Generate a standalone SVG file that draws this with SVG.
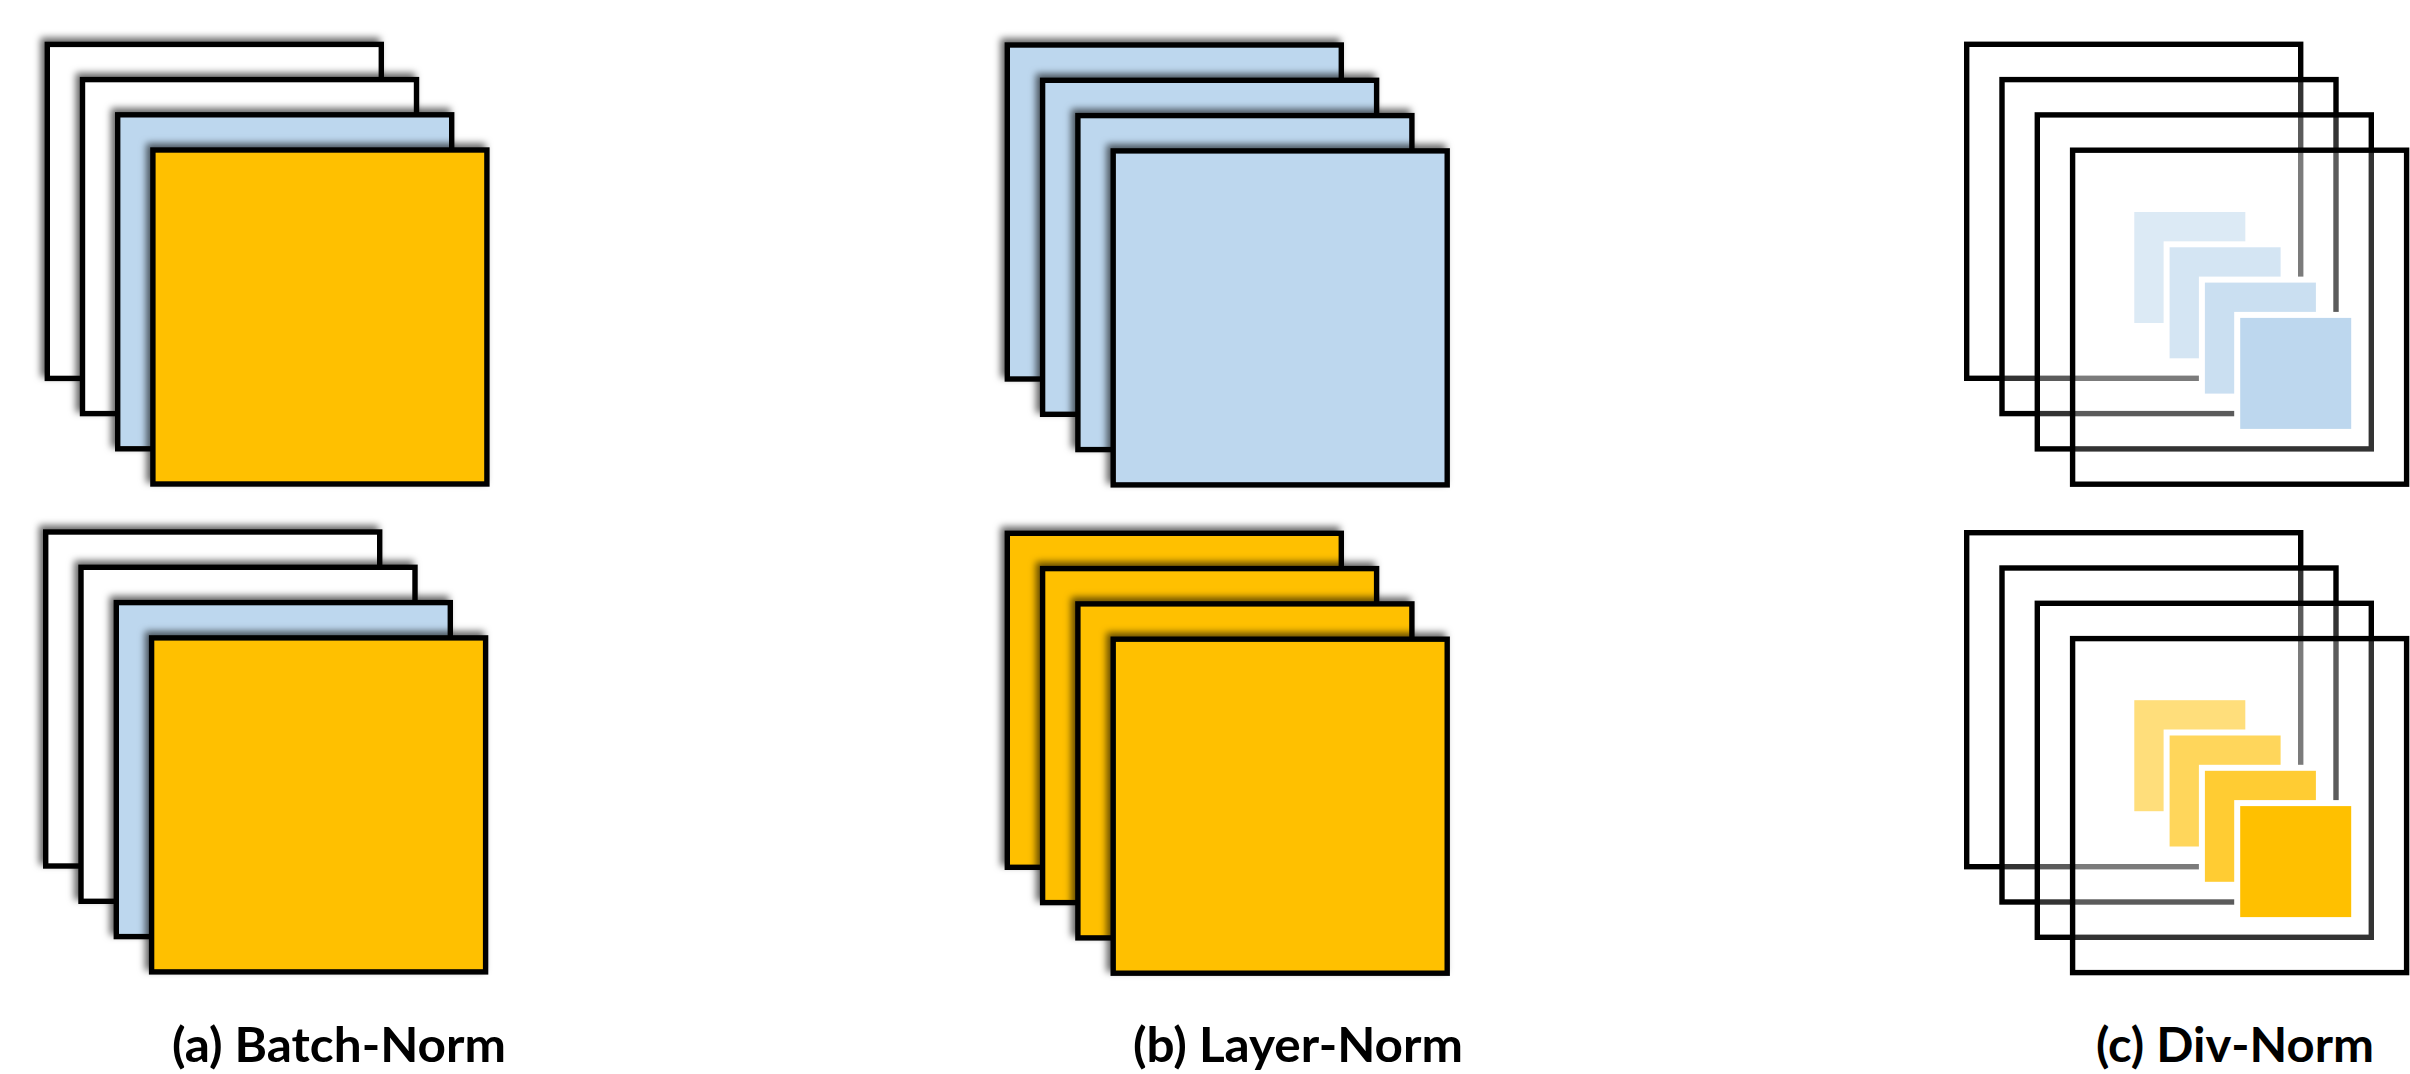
<svg xmlns="http://www.w3.org/2000/svg" width="2410" height="1074" viewBox="0 0 2410 1074">
<defs>
<filter id="sh" x="-10%" y="-10%" width="120%" height="120%">
<feDropShadow dx="-4" dy="-4" stdDeviation="3.5" flood-color="#000" flood-opacity="0.6"/>
</filter>
<style>
.sheet{stroke:#000;stroke-width:5.4;filter:url(#sh)}
.w{fill:#fff}
.b{fill:#BDD7EE}
.y{fill:#FFC000}
.frame{fill:#fff;fill-opacity:0.2;stroke:#000;stroke-width:5.4}
.gap{fill:#fff}
.lbl{font-family:Lato,"Open Sans","Liberation Sans",sans-serif;font-weight:bold;font-size:47px;fill:#000}
</style>
</defs>
<rect width="2410" height="1074" fill="#fff"/>

<g id="batch-norm-top">
<rect class="sheet w" x="47.3" y="44.4" width="334" height="334"/>
<rect class="sheet w" x="82.5" y="79.6" width="334" height="334"/>
<rect class="sheet b" x="117.7" y="114.8" width="334" height="334"/>
<rect class="sheet y" x="152.9" y="150" width="334" height="334"/>
</g>
<g id="batch-norm-bottom">
<rect class="sheet w" x="45.7" y="532" width="334" height="334"/>
<rect class="sheet w" x="81" y="567.3" width="334" height="334"/>
<rect class="sheet b" x="116.3" y="602.6" width="334" height="334"/>
<rect class="sheet y" x="151.6" y="637.9" width="334" height="334"/>
</g>

<g id="layer-norm-top">
<rect class="sheet b" x="1007.3" y="45" width="334" height="334"/>
<rect class="sheet b" x="1042.6" y="80.3" width="334" height="334"/>
<rect class="sheet b" x="1077.9" y="115.6" width="334" height="334"/>
<rect class="sheet b" x="1113.2" y="150.9" width="334" height="334"/>
</g>
<g id="layer-norm-bottom">
<rect class="sheet y" x="1007.3" y="533.3" width="334" height="334"/>
<rect class="sheet y" x="1042.6" y="568.6" width="334" height="334"/>
<rect class="sheet y" x="1077.9" y="603.9" width="334" height="334"/>
<rect class="sheet y" x="1113.2" y="639.2" width="334" height="334"/>
</g>

<g id="div-norm-top">
<rect class="frame" x="1966.7" y="44.3" width="334" height="334"/>
<rect class="gap" x="2128.3" y="206" width="123" height="123"/>
<rect class="b" x="2134.3" y="212" width="111" height="111"/>
<rect class="frame" x="2002" y="79.6" width="334" height="334"/>
<rect class="gap" x="2163.6" y="241.3" width="123" height="123"/>
<rect class="b" x="2169.6" y="247.3" width="111" height="111"/>
<rect class="frame" x="2037.3" y="114.9" width="334" height="334"/>
<rect class="gap" x="2198.9" y="276.6" width="123" height="123"/>
<rect class="b" x="2204.9" y="282.6" width="111" height="111"/>
<rect class="frame" x="2072.6" y="150.2" width="334" height="334"/>
<rect class="gap" x="2234.2" y="311.9" width="123" height="123"/>
<rect class="b" x="2240.2" y="317.9" width="111" height="111"/>
</g>
<g id="div-norm-bottom">
<rect class="frame" x="1966.7" y="532.7" width="334" height="334"/>
<rect class="gap" x="2128.3" y="694.2" width="123" height="123"/>
<rect class="y" x="2134.3" y="700.2" width="111" height="111"/>
<rect class="frame" x="2002" y="568" width="334" height="334"/>
<rect class="gap" x="2163.6" y="729.5" width="123" height="123"/>
<rect class="y" x="2169.6" y="735.5" width="111" height="111"/>
<rect class="frame" x="2037.3" y="603.3" width="334" height="334"/>
<rect class="gap" x="2198.9" y="764.8" width="123" height="123"/>
<rect class="y" x="2204.9" y="770.8" width="111" height="111"/>
<rect class="frame" x="2072.6" y="638.6" width="334" height="334"/>
<rect class="gap" x="2234.2" y="800.1" width="123" height="123"/>
<rect class="y" x="2240.2" y="806.1" width="111" height="111"/>
</g>

<g id="connectors"/>

<g id="labels">
<text class="lbl" x="172" y="1062" textLength="334" lengthAdjust="spacingAndGlyphs">(a) Batch-Norm</text>
<text class="lbl" x="1133" y="1062" textLength="330" lengthAdjust="spacingAndGlyphs">(b) Layer-Norm</text>
<text class="lbl" x="2096" y="1062" textLength="278" lengthAdjust="spacingAndGlyphs">(c) Div-Norm</text>
</g>
</svg>
